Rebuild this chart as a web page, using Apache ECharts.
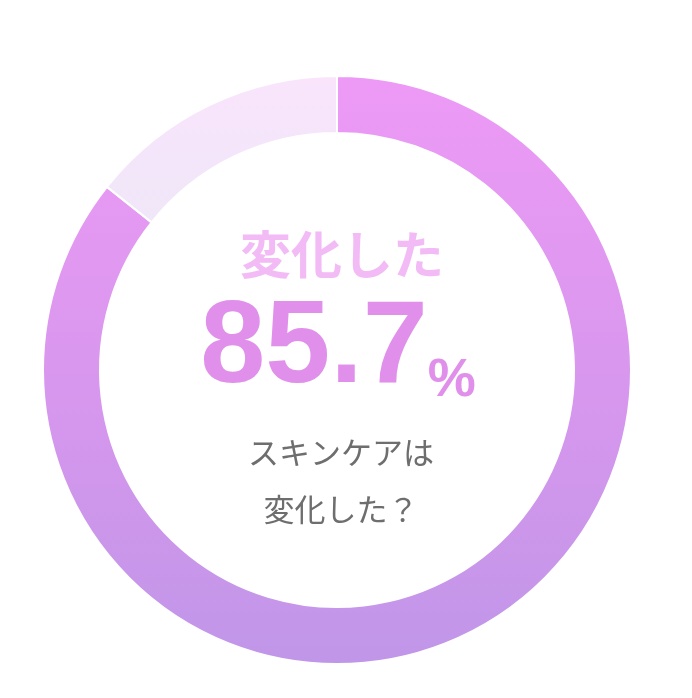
<!DOCTYPE html>
<html>
<head>
<meta charset="utf-8">
<script src="https://cdn.jsdelivr.net/npm/echarts@6/dist/echarts.min.js"></script>
<style>
  html, body { margin: 0; padding: 0; background: #fff; }
  #chart { width: 692px; height: 698px; }
</style>
</head>
<body>
<div id="chart"></div>
<script>
// answer split
const categories = ['変化した', '変化していない'];
const shares = [85.7, 14.3];

const headline = '変化した';
const question = ['スキンケアは', '変化した？'];

const chart = echarts.init(document.getElementById('chart'));

const mainColor = new echarts.graphic.LinearGradient(0, 76, 0, 665, [
    {offset: 0, color: '#ED9AF6'},
    {offset: 0.5, color: '#D997EE'},
    {offset: 1, color: '#C096E8'}
], true);
const restColor = new echarts.graphic.LinearGradient(0, 76, 0, 230, [
    {offset: 0, color: '#F9E4FC'},
    {offset: 1, color: '#EFE7F8'}
], true);
const colors = [mainColor, restColor];

const option = {
    backgroundColor: '#ffffff',
    animation: false,
    title: [
        {
            text: headline,
            left: 337,
            top: 224,
            textAlign: 'center',
            textStyle: {
                color: '#F3BBF6',
                fontSize: 51,
                fontWeight: 'bold',
                fontFamily: '"Noto Sans CJK JP", sans-serif'
            }
        },
        {
            text: '{num|' + shares[0] + '}{pct|%}',
            left: 333,
            top: 286,
            textAlign: 'center',
            textStyle: {
                rich: {
                    num: {
                        color: '#E08FEB',
                        fontSize: 117,
                        fontWeight: 'bold',
                        fontFamily: '"Liberation Sans", Arial, sans-serif',
                        verticalAlign: 'bottom'
                    },
                    pct: {
                        color: '#E08FEB',
                        fontSize: 54,
                        fontWeight: 'bold',
                        fontFamily: '"Liberation Sans", Arial, sans-serif',
                        verticalAlign: 'bottom'
                    }
                }
            }
        },
        {
            text: question.join('\n'),
            left: 336,
            top: 419,
            textAlign: 'center',
            textStyle: {
                color: '#6E6E6E',
                fontSize: 31,
                fontWeight: 'normal',
                lineHeight: 57,
                fontFamily: '"Noto Sans CJK JP", sans-serif'
            }
        }
    ],
    series: [{
        type: 'pie',
        center: [337, 370],
        radius: [237, 294],
        startAngle: 90,
        clockwise: true,
        silent: true,
        label: {show: false},
        labelLine: {show: false},
        itemStyle: {
            borderColor: '#ffffff',
            borderWidth: 2
        },
        data: categories.map((name, i) => ({
            name: name,
            value: shares[i],
            itemStyle: {color: colors[i]}
        }))
    }]
};

chart.setOption(option);
</script>
</body>
</html>
